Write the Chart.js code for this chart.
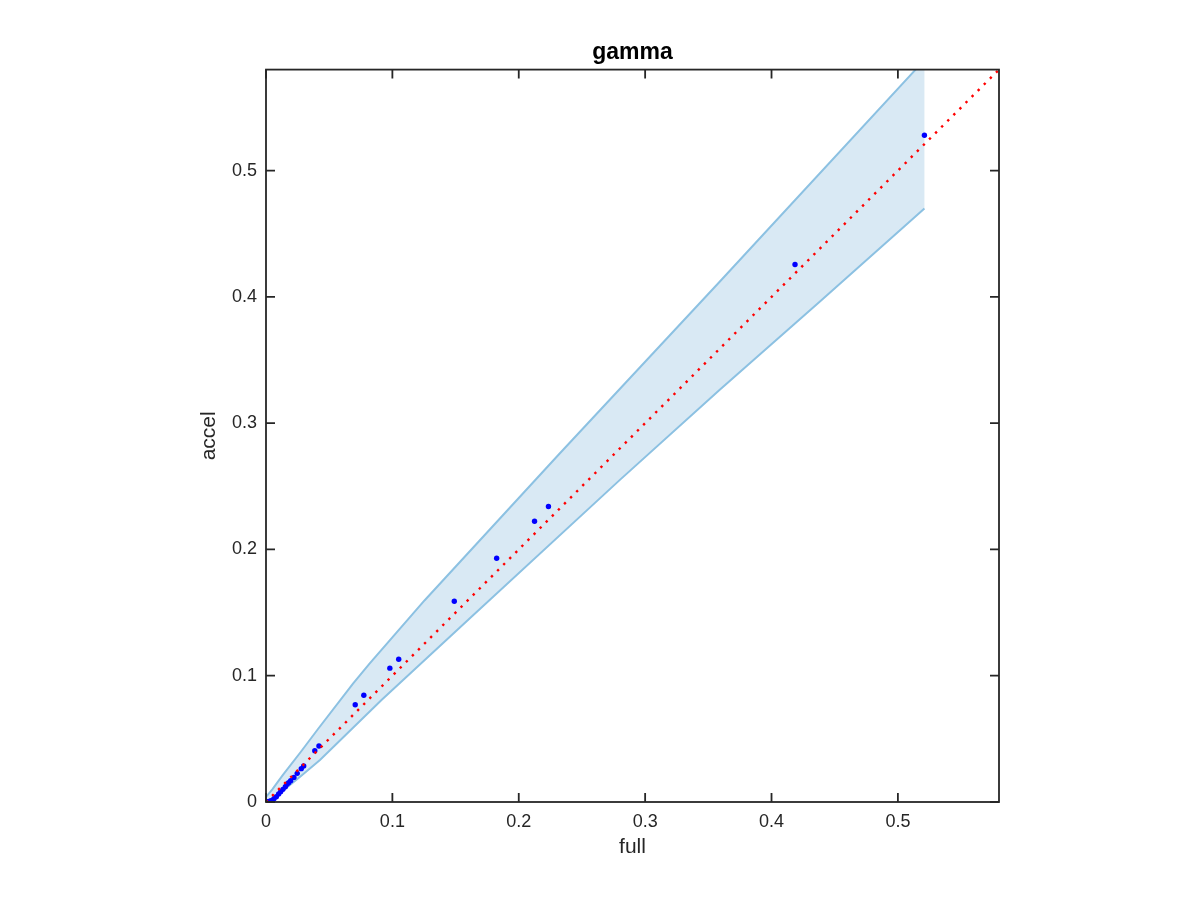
<!DOCTYPE html>
<html>
<head>
<meta charset="utf-8">
<script src="https://cdn.jsdelivr.net/npm/chart.js@4/dist/chart.umd.min.js"></script>
<style>
html,body{margin:0;padding:0;background:#fff;}
canvas{display:block;}
</style>
</head>
<body>
<canvas id="c" width="1200" height="900"></canvas>
<script>
// ---- data ----
const fullVals  = [0.521, 0.4186, 0.2235, 0.2125, 0.1825, 0.149, 0.105, 0.098, 0.0774, 0.0706, 0.0419, 0.0386, 0.0298, 0.0279, 0.0247, 0.0221, 0.0195, 0.0179, 0.0166, 0.0153, 0.0134, 0.0116, 0.0100, 0.0082, 0.0063, 0.0042, 0.0030, 0.0016, 0.0008, 0.0003, 0];
const accelVals = [0.528, 0.4256, 0.234, 0.2223, 0.193, 0.159, 0.113, 0.106, 0.0845, 0.0770, 0.0443, 0.0406, 0.0285, 0.0264, 0.0227, 0.0195, 0.0169, 0.0153, 0.0140, 0.0121, 0.0100, 0.0081, 0.0063, 0.0042, 0.0026, 0.0010, 0.0006, 0.0003, 0.0001, 0.0001, 0];

const upperFull  = [0, 0.005, 0.0134, 0.027, 0.0413, 0.069, 0.0821, 0.1256, 0.2322, 0.3586, 0.514, 0.521];
const upperAccel = [0.004, 0.010, 0.0215, 0.039, 0.058, 0.094, 0.1097, 0.1598, 0.2758, 0.4116, 0.580, 0.588];
const lowerFull  = [0, 0.005, 0.0134, 0.027, 0.0427, 0.0914, 0.1611, 0.2796, 0.3586, 0.439, 0.521];
const lowerAccel = [0, 0.003, 0.009, 0.020, 0.0332, 0.0807, 0.1453, 0.2547, 0.326, 0.397, 0.470];

const refLine = [0, 0.58];
const tickValues = [0, 0.1, 0.2, 0.3, 0.4, 0.5];
const axisMax = 0.58;

const titleText = 'gamma';
const xLabel = 'full';
const yLabel = 'accel';

// ---- build datasets ----
const pts = (xs, ys) => xs.map((x, i) => ({x: x, y: ys[i]}));
const bandPoly = pts(upperFull, upperAccel).concat(pts(lowerFull, lowerAccel).reverse());

const TXT = '#262626';
const FONT = "'Liberation Sans', Arial, Helvetica, sans-serif";

const boxPlugin = {
  id: 'box',
  afterDraw(chart) {
    const {ctx, chartArea: a, scales: {x, y}} = chart;
    ctx.save();
    ctx.strokeStyle = TXT;
    ctx.lineWidth = 1.8;
    ctx.strokeRect(a.left, a.top, a.right - a.left, a.bottom - a.top);
    const L = 9;
    ctx.beginPath();
    tickValues.forEach(v => {
      const px = x.getPixelForValue(v);
      ctx.moveTo(px, a.bottom); ctx.lineTo(px, a.bottom - L);
      ctx.moveTo(px, a.top); ctx.lineTo(px, a.top + L);
      const py = y.getPixelForValue(v);
      ctx.moveTo(a.left, py); ctx.lineTo(a.left + L, py);
      ctx.moveTo(a.right, py); ctx.lineTo(a.right - L, py);
    });
    ctx.stroke();
    ctx.restore();
  }
};

const keepTicks = scale => {
  scale.ticks = scale.ticks.filter(t => tickValues.some(v => Math.abs(v - t.value) < 1e-9));
};

new Chart(document.getElementById('c'), {
  type: 'scatter',
  data: {
    datasets: [
      {
        label: 'y = x',
        data: pts(refLine, refLine),
        showLine: true,
        borderColor: '#ff0000',
        borderWidth: 2.4,
        borderDash: [2.4, 6.2],
        pointRadius: 0,
        fill: false
      },
      {
        label: 'points',
        data: pts(fullVals, accelVals),
        showLine: false,
        pointRadius: 2.7,
        pointBackgroundColor: '#0000ff',
        pointBorderWidth: 0,
        borderColor: '#0000ff'
      },
      {
        label: 'upper',
        data: pts(upperFull, upperAccel),
        showLine: true,
        borderColor: '#8cc1e2',
        borderWidth: 2,
        pointRadius: 0,
        fill: false
      },
      {
        label: 'lower',
        data: pts(lowerFull, lowerAccel),
        showLine: true,
        borderColor: '#8cc1e2',
        borderWidth: 2,
        pointRadius: 0,
        fill: false
      },
      {
        label: 'band',
        data: bandPoly,
        showLine: true,
        borderWidth: 0,
        borderColor: 'rgba(0,0,0,0)',
        backgroundColor: 'rgb(217,233,244)',
        pointRadius: 0,
        fill: 'shape'
      }
    ]
  },
  options: {
    responsive: false,
    devicePixelRatio: 1,
    animation: false,
    layout: {padding: {left: 65, right: 0, top: 0, bottom: 0}},
    plugins: {
      legend: {display: false},
      tooltip: {enabled: false},
      title: {
        display: true,
        text: titleText,
        color: '#000',
        font: {family: FONT, size: 23, weight: 'bold'},
        padding: {top: 39, bottom: 3}
      }
    },
    scales: {
      x: {
        type: 'linear',
        min: 0, max: axisMax,
        afterBuildTicks: keepTicks,
        afterFit(s) { s.height = 98; },
        grid: {display: false, drawTicks: false},
        border: {display: false},
        ticks: {stepSize: 0.1, color: TXT, padding: 9, maxRotation: 0, font: {family: FONT, size: 18}},
        title: {display: true, text: xLabel, color: TXT, font: {family: FONT, size: 21}, padding: {top: 0, bottom: 40}}
      },
      y: {
        type: 'linear',
        position: 'left',
        min: 0, max: axisMax,
        afterBuildTicks: keepTicks,
        afterFit(s) { s.width = 201; },
        grid: {display: false, drawTicks: false},
        border: {display: false},
        ticks: {stepSize: 0.1, color: TXT, padding: 9, font: {family: FONT, size: 18}},
        title: {display: true, text: yLabel, color: TXT, font: {family: FONT, size: 21}, padding: {top: 132, bottom: 0}}
      },
      yRight: {
        type: 'linear',
        position: 'right',
        min: 0, max: 1,
        afterFit(s) { s.width = 201; },
        grid: {display: false, drawTicks: false},
        border: {display: false},
        ticks: {display: false}
      }
    }
  },
  plugins: [boxPlugin]
});
</script>
</body>
</html>
